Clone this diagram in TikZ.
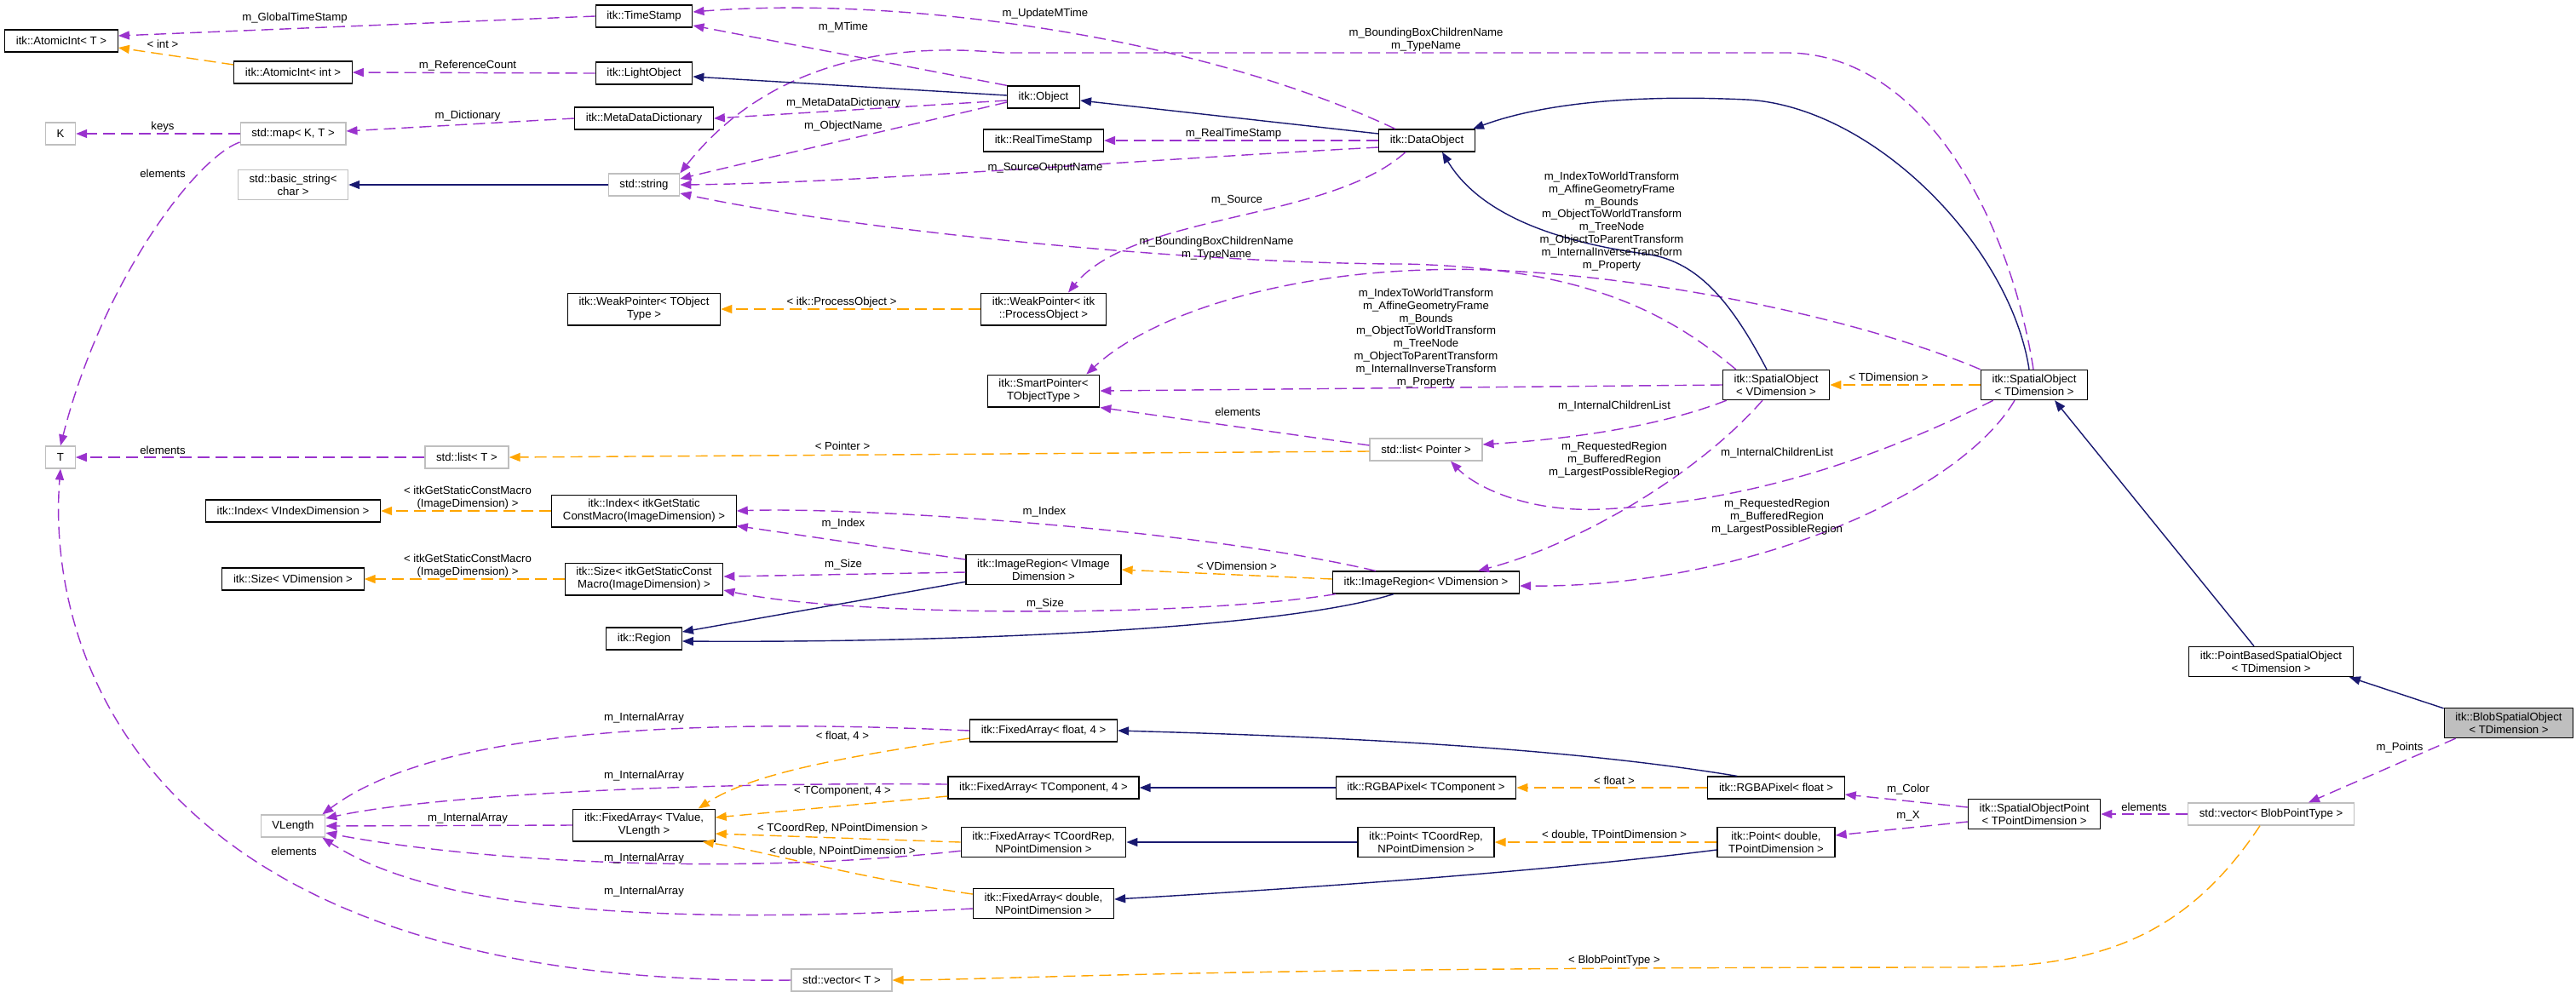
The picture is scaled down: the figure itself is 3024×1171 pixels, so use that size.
\documentclass[tikz,border=0pt]{standalone}
\usepackage{fontspec}
\setmainfont{Liberation Sans}
\usetikzlibrary{arrows.meta,calc}
\definecolor{inhblue}{HTML}{191970}
\definecolor{usepurple}{HTML}{9A32CD}
\definecolor{tplorange}{HTML}{FFA500}
\definecolor{extgrey}{HTML}{BFBFBF}
\begin{document}
\begin{tikzpicture}[x=0.02cm, y=-0.02cm,
    every node/.style={font=\fontsize{7.5}{8.5}\selectfont},
    cls/.style={draw=black, line width=0.7pt, fill=white, align=center, inner xsep=7.5pt, inner ysep=3pt, minimum height=0.52cm},
    ext/.style={cls, draw=extgrey},
    cur/.style={cls, fill=extgrey},
    lbl/.style={align=center, inner sep=0pt},
    use/.style={usepurple, line width=0.8pt, dash pattern=on 0.28cm off 0.14cm, -{Triangle[length=0.26cm, width=0.2cm]}},
    tpl/.style={use, tplorange},
    inh/.style={inhblue, line width=0.8pt, -{Triangle[length=0.26cm, width=0.2cm]}}]
    \useasboundingbox (0,0) rectangle (3024,1171);

    \node[cls] (aiT) at (72,48) {itk::AtomicInt< T >};
    \node[cls] (aiint) at (344,85) {itk::AtomicInt< int >};
    \node[ext] (K) at (71,157) {K};
    \node[ext] (map) at (344,157) {std::map< K, T >};
    \node[ext] (bstr) at (344,217) {std::basic\_string<\\ char >};
    \node[ext] (T) at (71,537) {T};
    \node[ext] (listT) at (548,537) {std::list< T >};
    \node[cls] (idxV) at (344,600) {itk::Index< VIndexDimension >};
    \node[cls] (sizeV) at (344,680) {itk::Size< VDimension >};
    \node[ext] (vlen) at (344,970) {VLength};
    \node[cls] (tstamp) at (756,19) {itk::TimeStamp};
    \node[cls] (lobj) at (756,86) {itk::LightObject};
    \node[cls] (mdd) at (756,139) {itk::MetaDataDictionary};
    \node[ext] (str) at (756,217) {std::string};
    \node[cls] (wpT) at (756,363) {itk::WeakPointer< TObject\\ Type >};
    \node[cls] (idxM) at (756,600) {itk::Index< itkGetStatic\\ConstMacro(ImageDimension) >};
    \node[cls] (sizeM) at (756,680) {itk::Size< itkGetStaticConst\\Macro(ImageDimension) >};
    \node[cls] (region) at (756,750) {itk::Region};
    \node[cls] (faT) at (756,969) {itk::FixedArray< TValue,\\ VLength >};
    \node[ext] (vecT) at (988,1151) {std::vector< T >};
    \node[cls] (obj) at (1225,114) {itk::Object};
    \node[cls] (rts) at (1225,165) {itk::RealTimeStamp};
    \node[cls] (wpP) at (1225,363) {itk::WeakPointer< itk\\ ::ProcessObject >};
    \node[cls] (sptr) at (1225,459) {itk::SmartPointer<\\ TObjectType >};
    \node[cls] (irVI) at (1225,669) {itk::ImageRegion< VImage\\ Dimension >};
    \node[cls] (faF4) at (1225,858) {itk::FixedArray< float, 4 >};
    \node[cls] (faTC) at (1225,925) {itk::FixedArray< TComponent, 4 >};
    \node[cls] (faCR) at (1225,989) {itk::FixedArray< TCoordRep,\\ NPointDimension >};
    \node[cls] (faD) at (1225,1061) {itk::FixedArray< double,\\ NPointDimension >};
    \node[cls] (dobj) at (1675,165) {itk::DataObject};
    \node[ext] (listP) at (1674,528) {std::list< Pointer >};
    \node[cls] (irV) at (1674,684) {itk::ImageRegion< VDimension >};
    \node[cls] (rgbaT) at (1674,925) {itk::RGBAPixel< TComponent >};
    \node[cls] (ptCR) at (1674,989) {itk::Point< TCoordRep,\\ NPointDimension >};
    \node[cls] (soV) at (2085,452) {itk::SpatialObject\\ < VDimension >};
    \node[cls] (rgbaF) at (2085,925) {itk::RGBAPixel< float >};
    \node[cls] (ptD) at (2085,989) {itk::Point< double,\\ TPointDimension >};
    \node[cls] (soT) at (2388,452) {itk::SpatialObject\\ < TDimension >};
    \node[cls] (sop) at (2388,956) {itk::SpatialObjectPoint\\ < TPointDimension >};
    \node[cls] (pbso) at (2666,777) {itk::PointBasedSpatialObject\\ < TDimension >};
    \node[ext] (vecB) at (2666,956) {std::vector< BlobPointType >};
    \node[cur] (blob) at (2945,849) {itk::BlobSpatialObject\\ < TDimension >};

    \draw[use] (tstamp.west) -- ($(aiT.east)+(0,-6)$);
    \draw[use] (lobj.west) -- (aiint.east);
    \draw[use] (mdd.west) -- ($(map.east)+(0,-3)$);
    \draw[use] (map.west) -- (K.east);
    \draw[use] ($(map.west)+(0,10)$) .. controls (230,185) and (120,330) .. (T.north);
    \draw[use] (listT.west) -- (T.east);
    \draw[use] (vecT.west) .. controls (150,1160) and (55,750) .. (T.south);
    \draw[use] (obj.north west) -- ($(tstamp.east)+(0,11)$);
    \draw[use] ($(dobj.north west)+(20,0)$) .. controls (1400,40) and (1050,-5) .. ($(tstamp.east)+(0,-5)$);
    \draw[use] ($(obj.west)+(0,4)$) -- (mdd.east);
    \draw[use] ($(obj.west)+(0,6)$) .. controls (1120,135) and (880,190) .. ($(str.east)+(0,-7)$);
    \draw[use] ($(dobj.west)+(0,8)$) .. controls (1300,190) and (1000,215) .. (str.east);
    \draw[use] (dobj.west) -- (rts.east);
    \draw[use] ($(dobj.south)+(-25,0)$) .. controls (1560,260) and (1330,250) .. ($(wpP.north)+(29,0)$);
    \draw[use] ($(soT.north)+(-1,0)$) .. controls (2360,260) and (2260,65) .. (2100,62) -- (1176,62) .. controls (1000,45) and (880,100) .. (str.north east);
    \draw[use] ($(soV.north west)+(16,0)$) .. controls (1950,360) and (1850,315) .. (1650,310) .. controls (1400,310) and (1000,270) .. ($(str.east)+(0,10)$);
    \draw[use] (soT.north west) .. controls (2150,360) and (1850,310) .. (1674,317) .. controls (1500,322) and (1350,370) .. ($(sptr.north east)+(-16,0)$);
    \draw[use] (soV.west) -- (sptr.east);
    \draw[use] ($(listP.west)+(0,-5)$) -- (sptr.south east);
    \draw[use] ($(soV.south west)+(5,0)$) .. controls (1950,500) and (1850,515) .. ($(listP.east)+(0,-6)$);
    \draw[use] ($(soT.south west)+(15,0)$) .. controls (2200,540) and (2050,590) .. (1880,598) .. controls (1790,602) and (1730,570) .. ($(listP.south)+(29,0)$);
    \draw[use] ($(soV.south)+(-16,0)$) .. controls (1990,560) and (1850,640) .. ($(irV.north)+(61,0)$);
    \draw[use] ($(soT.south)+(-23,0)$) .. controls (2300,580) and (2050,690) .. ($(irV.east)+(0,4)$);
    \draw[use] ($(irV.north west)+(51,0)$) .. controls (1400,620) and (1000,595) .. (idxM.east);
    \draw[use] ($(irVI.west)+(0,-12)$) -- ($(idxM.south east)+(0,-2)$);
    \draw[use] ($(irVI.west)+(0,3)$) -- ($(sizeM.east)+(0,-3)$);
    \draw[use] ($(irV.south west)+(4,0)$) .. controls (1400,725) and (1000,725) .. ($(sizeM.east)+(0,13)$);
    \draw[use] (faF4.west) .. controls (850,845) and (520,850) .. ($(vlen.north east)+(-4,0)$);
    \draw[use] ($(faTC.west)+(0,-4)$) .. controls (800,918) and (500,935) .. ($(vlen.east)+(0,-9)$);
    \draw[use] (faT.west) -- (vlen.east);
    \draw[use] ($(faCR.south west)+(0,-8)$) .. controls (850,1030) and (550,1010) .. ($(vlen.east)+(0,8)$);
    \draw[use] ($(faD.west)+(0,6)$) .. controls (800,1085) and (520,1075) .. ($(vlen.south east)+(-4,0)$);
    \draw[use] ($(sop.west)+(0,-8)$) -- ($(rgbaF.east)+(0,8)$);
    \draw[use] ($(sop.west)+(0,9)$) -- ($(ptD.east)+(0,-8)$);
    \draw[use] (vecB.west) -- (sop.east);
    \draw[use] ($(blob.south west)+(14,0)$) -- ($(vecB.north)+(44,0)$);

    \draw[tpl] ($(aiint.west)+(0,-9)$) -- ($(aiT.east)+(0,8)$);
    \draw[tpl] (wpP.west) -- (wpT.east);
    \draw[tpl] ($(listP.west)+(0,2)$) -- (listT.east);
    \draw[tpl] (idxM.west) -- (idxV.east);
    \draw[tpl] (sizeM.west) -- (sizeV.east);
    \draw[tpl] ($(irV.west)+(0,-4)$) -- (irVI.east);
    \draw[tpl] (soT.west) -- (soV.east);
    \draw[tpl] ($(faF4.west)+(0,9)$) .. controls (980,890) and (880,910) .. ($(faT.north east)+(-20,0)$);
    \draw[tpl] ($(faTC.west)+(0,10)$) -- ($(faT.east)+(0,-9)$);
    \draw[tpl] (faCR.west) -- ($(faT.east)+(0,10)$);
    \draw[tpl] ($(faD.west)+(0,-11)$) .. controls (1000,1030) and (900,1000) .. ($(faT.south east)+(-15,0)$);
    \draw[tpl] (rgbaF.west) -- (rgbaT.east);
    \draw[tpl] (ptD.west) -- (ptCR.east);
    \draw[tpl] ($(vecB.south)+(-13,0)$) .. controls (2560,1110) and (2450,1136) .. (2300,1136) .. controls (1400,1136) and (1200,1150) .. (vecT.east);

    \draw[inh] (str.west) -- (bstr.east);
    \draw[inh] ($(obj.west)+(0,-2)$) -- ($(lobj.east)+(0,4)$);
    \draw[inh] ($(dobj.west)+(0,-8)$) -- ($(obj.east)+(0,4)$);
    \draw[inh] ($(soV.north)+(-11,0)$) .. controls (2030,350) and (1990,305) .. (1930,298) .. controls (1800,280) and (1730,240) .. ($(dobj.south)+(18,0)$);
    \draw[inh] ($(soT.north)+(-6,0)$) .. controls (2360,290) and (2200,125) .. (2050,117) .. controls (1900,110) and (1800,125) .. ($(dobj.north east)+(-3,0)$);
    \draw[inh] ($(pbso.north)+(-20,0)$) -- ($(soT.south)+(24,0)$);
    \draw[inh] ($(blob.north west)+(0,1)$) -- ($(pbso.south east)+(-5,0)$);
    \draw[inh] ($(irVI.south west)+(0,-4)$) -- ($(region.east)+(0,-8)$);
    \draw[inh] ($(irV.south)+(-38,0)$) .. controls (1500,740) and (1100,755) .. ($(region.east)+(0,3)$);
    \draw[inh] ($(rgbaF.north west)+(35,0)$) .. controls (1850,880) and (1600,866) .. (faF4.east);
    \draw[inh] (rgbaT.west) -- (faTC.east);
    \draw[inh] (ptCR.west) -- (faCR.east);
    \draw[inh] ($(ptD.west)+(0,9)$) .. controls (1800,1025) and (1500,1045) .. ($(faD.east)+(0,-5)$);

    \node[lbl] (lGTS) at (346,21) {m\_GlobalTimeStamp};
    \node[lbl] (lint) at (191,52) {< int >};
    \node[lbl] (lRC) at (549,77) {m\_ReferenceCount};
    \node[lbl] (lDict) at (549,136) {m\_Dictionary};
    \node[lbl] (lkeys) at (191,149) {keys};
    \node[lbl] (lel1) at (191,204) {elements};
    \node[lbl] (lel2) at (191,529) {elements};
    \node[lbl] (lel3) at (345,1000) {elements};
    \node[lbl] (lUMT) at (1227,16) {m\_UpdateMTime};
    \node[lbl] (lMT) at (990,32) {m\_MTime};
    \node[lbl] (lMDD) at (990,121) {m\_MetaDataDictionary};
    \node[lbl] (lON) at (990,148) {m\_ObjectName};
    \node[lbl] (lRTS) at (1448,157) {m\_RealTimeStamp};
    \node[lbl] (lSON) at (1227,197) {m\_SourceOutputName};
    \node[lbl] (lSrc) at (1452,235) {m\_Source};
    \node[lbl] (lBB1) at (1674,47) {m\_BoundingBoxChildrenName\\m\_TypeName};
    \node[lbl] (lBB2) at (1428,292) {m\_BoundingBoxChildrenName\\m\_TypeName};
    \node[lbl] (lIW1) at (1892,260) {m\_IndexToWorldTransform\\m\_AffineGeometryFrame\\m\_Bounds\\m\_ObjectToWorldTransform\\m\_TreeNode\\m\_ObjectToParentTransform\\m\_InternalInverseTransform\\m\_Property};
    \node[lbl] (lIW2) at (1674,397) {m\_IndexToWorldTransform\\m\_AffineGeometryFrame\\m\_Bounds\\m\_ObjectToWorldTransform\\m\_TreeNode\\m\_ObjectToParentTransform\\m\_InternalInverseTransform\\m\_Property};
    \node[lbl] (lPO) at (988,355) {< itk::ProcessObject >};
    \node[lbl] (lel4) at (1453,484) {elements};
    \node[lbl] (lPtr) at (989,524) {< Pointer >};
    \node[lbl] (lICL1) at (1895,477) {m\_InternalChildrenList};
    \node[lbl] (lICL2) at (2086,532) {m\_InternalChildrenList};
    \node[lbl] (lRR1) at (1895,540) {m\_RequestedRegion\\m\_BufferedRegion\\m\_LargestPossibleRegion};
    \node[lbl] (lRR2) at (2086,607) {m\_RequestedRegion\\m\_BufferedRegion\\m\_LargestPossibleRegion};
    \node[lbl] (lTD) at (2217,443) {< TDimension >};
    \node[lbl] (lVD) at (1452,665) {< VDimension >};
    \node[lbl] (lIdx1) at (1226,601) {m\_Index};
    \node[lbl] (lIdx2) at (990,615) {m\_Index};
    \node[lbl] (lSz1) at (990,663) {m\_Size};
    \node[lbl] (lSz2) at (1227,709) {m\_Size};
    \node[lbl] (lGS1) at (549,585) {< itkGetStaticConstMacro\\(ImageDimension) >};
    \node[lbl] (lGS2) at (549,665) {< itkGetStaticConstMacro\\(ImageDimension) >};
    \node[lbl] (lIA1) at (756,843) {m\_InternalArray};
    \node[lbl] (lIA2) at (756,911) {m\_InternalArray};
    \node[lbl] (lIA3) at (549,961) {m\_InternalArray};
    \node[lbl] (lIA4) at (756,1008) {m\_InternalArray};
    \node[lbl] (lIA5) at (756,1047) {m\_InternalArray};
    \node[lbl] (lF4) at (989,865) {< float, 4 >};
    \node[lbl] (lTC) at (989,929) {< TComponent, 4 >};
    \node[lbl] (lCR) at (989,973) {< TCoordRep, NPointDimension >};
    \node[lbl] (lDN) at (989,1000) {< double, NPointDimension >};
    \node[lbl] (lflt) at (1895,917) {< float >};
    \node[lbl] (lDT) at (1895,981) {< double, TPointDimension >};
    \node[lbl] (lCol) at (2240,927) {m\_Color};
    \node[lbl] (lX) at (2240,958) {m\_X};
    \node[lbl] (lel5) at (2517,948) {elements};
    \node[lbl] (lPts) at (2817,878) {m\_Points};
    \node[lbl] (lBPT) at (1895,1128) {< BlobPointType >};
\end{tikzpicture}
\end{document}
